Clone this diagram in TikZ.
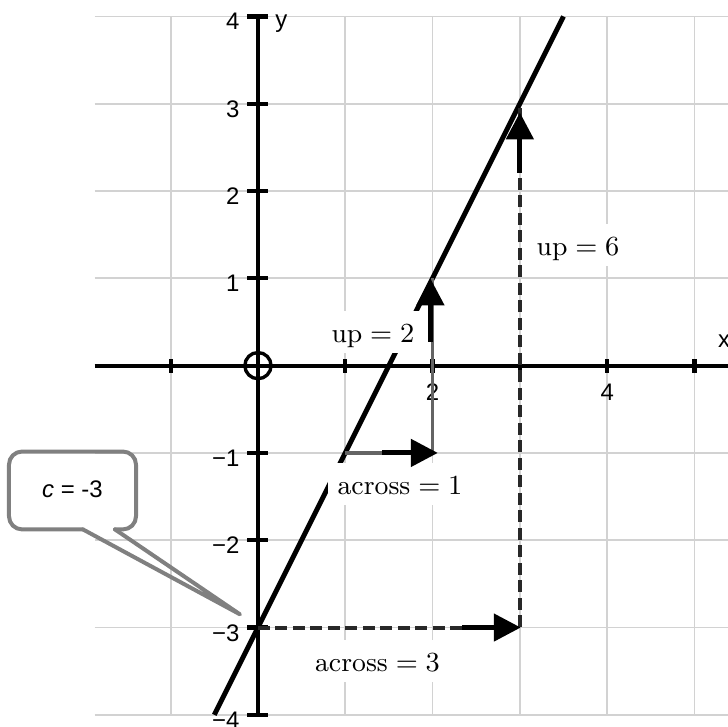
\documentclass[tikz,border=0pt]{standalone}
\usepackage{fontspec}
\setsansfont{Liberation Sans}
\usepackage{tikz}
\usetikzlibrary{arrows.meta}
\definecolor{gridgray}{RGB}{210,210,210}
\definecolor{vecgray}{RGB}{100,100,100}
\definecolor{dashdark}{RGB}{40,40,40}
\definecolor{notegray}{RGB}{128,128,128}
\tikzset{
  gridline/.style={color=gridgray, line width=0.55pt},
  axisline/.style={line width=1.3pt, color=black},
  axtick/.style={line width=1.4pt, color=black},
  numlbl/.style={inner sep=0pt, font=\sffamily\fontsize{7.8}{9}\selectfont},
  graphline/.style={line width=1.6pt, color=black},
  steplbl/.style={fill=white, anchor=base, inner xsep=3pt, inner ysep=2pt,
    text height=8.3pt, text depth=1.5pt, font=\fontsize{8.8}{10}\selectfont},
  vecline/.style={line width=1.1pt, color=vecgray},
  dashline/.style={line width=1.3pt, color=dashdark, dash pattern=on 3.9pt off 1.8pt},
  vecarrow/.style={-{Triangle[length=8.8pt, width=8.8pt]}, line width=1.6pt, color=black},
  notebox/.style={line width=1.3pt, color=notegray, line join=round, line cap=round}
}
\begin{document}
\begin{tikzpicture}
  \useasboundingbox (-2.955,-4.130) rectangle (5.384,4.188);
  \draw[gridline] (-1.87,-4) grid (5.5,4);

  % the line y = 2x - 3
  \coordinate (lbot) at (-0.5,-4);
  \coordinate (ltop) at (3.5,4);
  \draw[graphline] (lbot) -- (ltop);

  % step labels (white boxes over grid and line)
  \node[steplbl] (up2) at (1.317,0.263) {$\mathrm{up}=2$};
  \node[steplbl] (up6) at (3.666,1.262) {$\mathrm{up}=6$};
  \node[steplbl] (across1) at (1.627,-1.476) {$\mathrm{across}=1$};
  \node[steplbl] (across3) at (1.369,-3.501) {$\mathrm{across}=3$};

  % axes
  \coordinate (xl) at (-1.87,0);
  \coordinate (xr) at (5.5,0);
  \coordinate (yb) at (0,-4);
  \coordinate (yt) at (0,4);
  \draw[axisline] (xl) -- (xr);
  \draw[axisline] (yb) -- (yt);
  \foreach \x in {-1,1,2,3,4,5}
    \draw[axtick] (\x,-0.08) -- (\x,0.08);
  \foreach \y in {-4,-3,-2,-1,1,2,3,4}
    \draw[axtick] (-0.12,\y) -- (0.12,\y);
  \foreach \y/\t in {4/4,3/3,2/2,1/1,-1/−1,-2/−2,-3/−3,-4/−4}
    \node[numlbl, anchor=east] (ylbl\y) at (-0.206,\y-0.06) {\t};
  \node[numlbl] (xlbl2) at (2,-0.303) {2};
  \node[numlbl] (xlbl4) at (4,-0.303) {4};
  \node[numlbl, anchor=base] (xname) at (5.34,0.206) {x};
  \node[numlbl, anchor=base] (yname) at (0.269,3.873) {y};
  \coordinate (orig) at (0,0);
  \draw[line width=1.1pt] (orig) circle (0.15);

  % rise and run
  \coordinate (p1) at (1,-1);
  \coordinate (p2) at (2,-1);
  \coordinate (p3) at (2,1);
  \coordinate (q0) at (0,-3);
  \coordinate (q1) at (3,-3);
  \coordinate (q2) at (3,3);
  \draw[vecline] (p1) -- (p2) -- (p3);
  \draw[dashline] (q0) -- (q1) -- (q2);

  \coordinate (a1s) at (1.42,-1);
  \coordinate (a1e) at (2.06,-1);
  \coordinate (a2s) at (1.975,0.275);
  \coordinate (a2e) at (1.975,1);
  \coordinate (a3s) at (2.34,-3);
  \coordinate (a3e) at (3.01,-3);
  \coordinate (a4s) at (3,2.21);
  \coordinate (a4e) at (3,2.9);
  \draw[vecarrow] (a1s) -- (a1e);
  \draw[vecarrow] (a2s) -- (a2e);
  \draw[vecarrow] (a3s) -- (a3e);
  \draw[vecarrow] (a4s) -- (a4e);

  % callout for the intercept
  \coordinate (ctip) at (-0.206,-2.849);
  \coordinate (cbl) at (-2.005,-1.876);
  \coordinate (cbr) at (-1.638,-1.876);
  \draw[notebox, rounded corners=0.15cm] (cbl) -- (-2.852,-1.876) -- (-2.852,-0.984)
    -- (-1.397,-0.984) -- (-1.397,-1.876) -- (cbr);
  \draw[notebox] (cbl) -- (ctip) -- (cbr);
  \node[numlbl] (cnote) at (-2.125,-1.413) {\textit{c} = -3};
\end{tikzpicture}
\end{document}
